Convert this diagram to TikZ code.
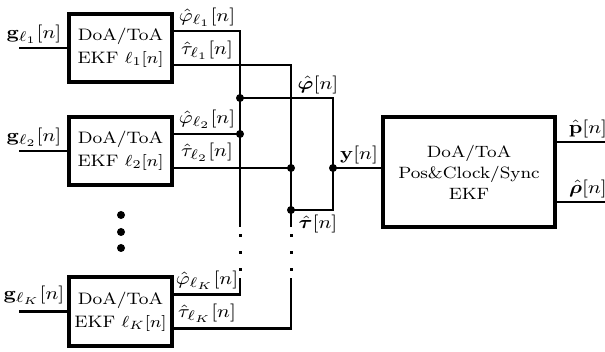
\documentclass[tikz,border=0pt]{standalone}
\usepackage{amsmath,bm}
\begin{document}
\begin{tikzpicture}[x=0.5pt,y=-0.5pt,
  conn/.style={line width=1.3pt},
  blk/.style={draw, line width=1.9pt, xscale=1.1, inner sep=0pt, align=center, font=\fontsize{8.3}{11.35}\selectfont},
  lab/.style={xscale=1.15, inner sep=0.5pt, font=\fontsize{9.5}{11}\selectfont},
  jdot/.style={circle, fill, inner sep=0pt, minimum size=4pt}]
\useasboundingbox (0,0) rectangle (605,352);
% blocks
\node[blk, minimum width=46.8pt, minimum height=34pt] (b1) at (120.5,48) {DoA/ToA\\EKF $\ell_1[n]$};
\node[blk, minimum width=46.8pt, minimum height=34pt] (b2) at (120.5,151) {DoA/ToA\\EKF $\ell_2[n]$};
\node[blk, minimum width=46.8pt, minimum height=34.5pt] (bK) at (120.5,311.5) {DoA/ToA\\EKF $\ell_K[n]$};
\node[blk, minimum width=78.2pt, minimum height=55pt, font=\fontsize{8.2}{10.5}\selectfont] (main) at (469,172) {DoA/ToA\\Pos\&Clock/Sync\\EKF};
% ellipsis
\node[jdot] (e1) at (121,215) {};
\node[jdot] (e2) at (121,232) {};
\node[jdot] (e3) at (121,248) {};
% inputs
\coordinate (in1) at (19,48);
\coordinate (in2) at (19,151);
\coordinate (inK) at (19,311.5);
\draw[conn] (in1) -- (b1.west);
\draw[conn] (in2) -- (b2.west);
\draw[conn] (inK) -- (bK.west);
% output points of blocks
\path ([yshift=8.5pt]b1.east) coordinate (b1p) ([yshift=-8.5pt]b1.east) coordinate (b1t)
      ([yshift=8.5pt]b2.east) coordinate (b2p) ([yshift=-8.5pt]b2.east) coordinate (b2t)
      ([yshift=8.5pt]bK.east) coordinate (bKp) ([yshift=-8.5pt]bK.east) coordinate (bKt);
% bus coordinates
\coordinate (aTop) at (240,227);
\coordinate (aBot) at (240,278);
\coordinate (tTop) at (291,227);
\coordinate (tBot) at (291,278);
\coordinate (jphi) at (240,98);
\coordinate (jp2) at (240,134);
\coordinate (jt2) at (291,168);
\coordinate (jtau) at (291,210);
\coordinate (jy) at (333,168);
% buses
\draw[conn] (b1p) -| (aTop);
\draw[conn] (bKp) -| (aBot);
\draw[conn] (b1t) -| (tTop);
\draw[conn] (bKt) -| (tBot);
\foreach \yy in {236,253,270} {
  \fill (238.5,\yy-1.5) rectangle (241.5,\yy+1.5);
  \fill (289.5,\yy-1.5) rectangle (292.5,\yy+1.5);
}
\draw[conn] (b2p) -- (jp2);
\draw[conn] (b2t) -- (jt2);
\draw[conn] (jphi) -| (jy) |- (jtau);
\draw[conn] (jy) -- (jy -| main.west);
\node[jdot] (d1) at (jphi) {};
\node[jdot] (d2) at (jp2) {};
\node[jdot] (d3) at (jt2) {};
\node[jdot] (d4) at (jtau) {};
\node[jdot] (d5) at (jy) {};
% outputs
\coordinate (pout) at (605,142);
\coordinate (rout) at (605,202);
\draw[conn] (main.east |- pout) -- (pout);
\draw[conn] (main.east |- rout) -- (rout);
% labels
\node[lab, anchor=south] (lg1) at (34,45) {$\mathbf{g}_{\ell_1}[n]$};
\node[lab, anchor=south] (lg2) at (34,148) {$\mathbf{g}_{\ell_2}[n]$};
\node[lab, anchor=south] (lgK) at (34,306) {$\mathbf{g}_{\ell_K}[n]$};
\node[lab, anchor=south] (lp1) at (207,28) {$\hat{\varphi}_{\ell_1}[n]$};
\node[lab, anchor=south] (lt1) at (207,61) {$\hat{\tau}_{\ell_1}[n]$};
\node[lab, anchor=south] (lp2) at (207,130) {$\hat{\varphi}_{\ell_2}[n]$};
\node[lab, anchor=south] (lt2) at (207,163) {$\hat{\tau}_{\ell_2}[n]$};
\node[lab, anchor=south] (lpK) at (207,291) {$\hat{\varphi}_{\ell_K}[n]$};
\node[lab, anchor=south] (ltK) at (207,324) {$\hat{\tau}_{\ell_K}[n]$};
\node[lab, anchor=south] (lphi) at (318,95) {$\hat{\bm{\varphi}}[n]$};
\node[lab, anchor=north] (ltau) at (318,214) {$\hat{\bm{\tau}}[n]$};
\node[lab, anchor=south] (ly) at (359,165) {$\mathbf{y}[n]$};
\node[lab, anchor=south] (lpo) at (588,139) {$\hat{\mathbf{p}}[n]$};
\node[lab, anchor=south] (lro) at (588,199) {$\hat{\bm{\rho}}[n]$};
\end{tikzpicture}
\end{document}
